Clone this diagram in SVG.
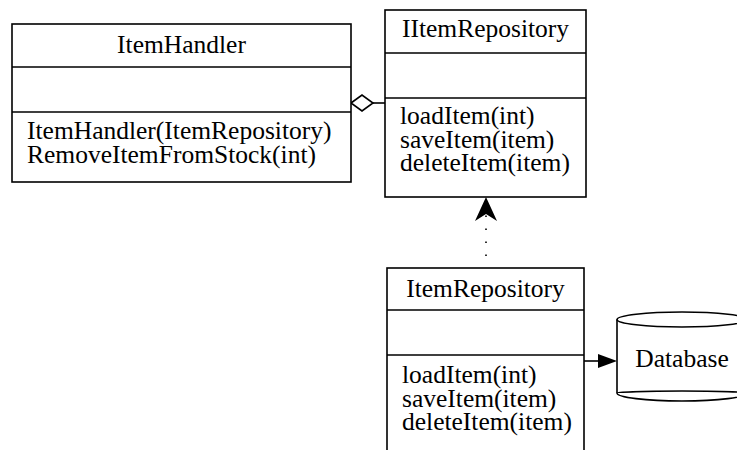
<svg xmlns="http://www.w3.org/2000/svg" width="737" height="450" viewBox="0 0 737 450">
  <style>
    .box { fill: #fff; stroke: #000; stroke-width: 1.6; }
    .div { stroke: #000; stroke-width: 1.6; fill: none; }
    .t { font-family: "Liberation Serif", "Times New Roman", serif; font-size: 25.5px; fill: #000; }
    .c { text-anchor: middle; }
    .edge { stroke: #000; stroke-width: 1.6; fill: none; }
  </style>
  <rect width="737" height="450" fill="#fff"/>

  <g id="connectors">
    <!-- aggregation: ItemHandler <>— IItemRepository -->
    <path class="edge" d="M373 103 L385 103"/>
    <path d="M351 103 L362 95 L373 103 L362 111 Z" fill="#fff" stroke="#000" stroke-width="1.6"/>
    <!-- realization (dotted) from ItemRepository to IItemRepository -->
    <path class="edge" d="M486 256 L486 212" stroke-dasharray="1.6 11.4" stroke-width="2"/>
    <path d="M486 197 L497 221 L486 214 L475 221 Z" fill="#000"/>
    <!-- association: ItemRepository -> Database -->
    <path class="edge" d="M584 361 L600 361"/>
    <path d="M617 361 L598 354 L598 368 Z" fill="#000"/>
  </g>

  <g id="ItemHandler">
    <rect class="box" x="12" y="24" width="339" height="158"/>
    <path class="div" d="M12 67 H351 M12 112 H351"/>
    <text class="t c" x="181.5" y="53">ItemHandler</text>
    <text class="t" x="27" y="139">ItemHandler(ItemRepository)</text>
    <text class="t" x="27" y="163">RemoveItemFromStock(int)</text>
  </g>

  <g id="IItemRepository">
    <rect class="box" x="385" y="10" width="201" height="187"/>
    <path class="div" d="M385 53 H586 M385 98 H586"/>
    <text class="t c" x="485.5" y="37">IItemRepository</text>
    <text class="t" x="400" y="124">loadItem(int)</text>
    <text class="t" x="400" y="148">saveItem(item)</text>
    <text class="t" x="400" y="171">deleteItem(item)</text>
  </g>

  <g id="ItemRepository">
    <rect class="box" x="387" y="268" width="197" height="200"/>
    <path class="div" d="M387 310 H584 M387 355 H584"/>
    <text class="t c" x="485.5" y="297">ItemRepository</text>
    <text class="t" x="402" y="383">loadItem(int)</text>
    <text class="t" x="402" y="407">saveItem(item)</text>
    <text class="t" x="402" y="430">deleteItem(item)</text>
  </g>

  <g id="Database">
    <path class="box" d="M617 319.5 V393 A65 8 0 0 0 747 393 V319.5"/>
    <path class="div" d="M617 393 A65 2 0 0 1 747 393"/>
    <ellipse class="box" cx="682" cy="319.5" rx="65" ry="7.5"/>
    <text class="t c" x="682" y="367">Database</text>
  </g>
</svg>
